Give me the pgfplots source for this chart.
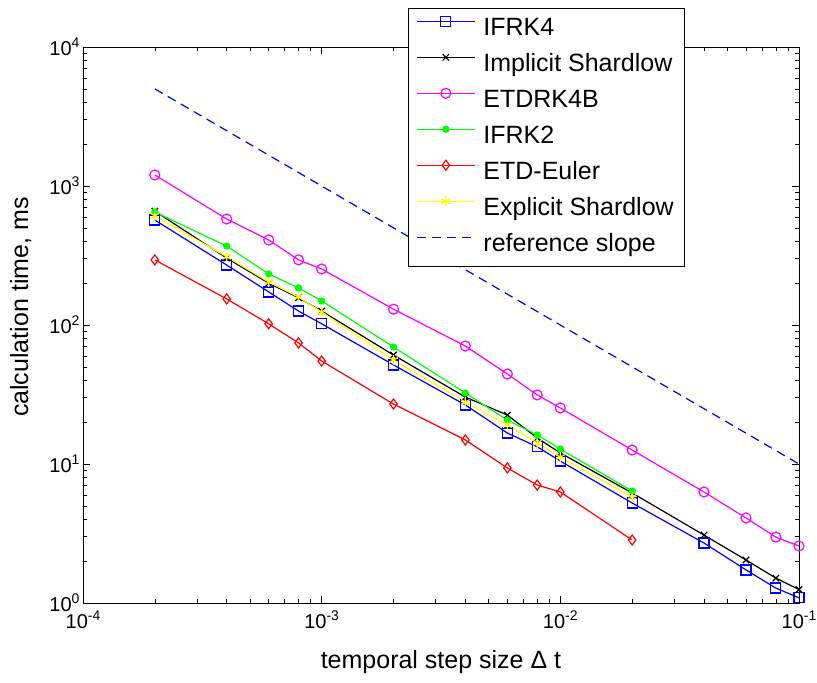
\documentclass[border=0pt]{standalone}
\usepackage{fontspec}
\setmainfont{Liberation Sans}
\usepackage{pgfplots}
\pgfplotsset{compat=1.18}
\definecolor{mblue}{rgb}{0,0,1}
\definecolor{mmag}{rgb}{1,0,1}
\definecolor{mgreen}{rgb}{0,1,0}
\definecolor{mred}{rgb}{1,0,0}
\definecolor{myellow}{rgb}{1,1,0}
\begin{document}
\begin{tikzpicture}
\path[use as bounding box] (-83pt,-80pt) rectangle (734pt,603pt);
\begin{axis}[
  at={(0pt,0pt)}, anchor=south west,
  scale only axis, width=716pt, height=556pt,
  xmode=log, ymode=log,
  xmin=1e-4, xmax=1e-1, ymin=1, ymax=1e4,
  clip=false,
  axis line style={line width=0.8pt},
  major tick length=7pt, minor tick length=4pt,
  every tick/.style={black, line width=0.6pt},
  tick label style={font=\fontsize{20}{24}\selectfont},
  log number format basis/.code 2 args={#1\raisebox{8pt}{\fontsize{14}{14}\selectfont\pgfmathprintnumber[assume math mode=true]{#2}}},
  xticklabel style={yshift=-4pt},
  xlabel={temporal step size Δ t},
  ylabel={calculation time, ms},
  label style={font=\fontsize{25}{30}\selectfont},
  xlabel style={at={(axis description cs:0.5,-0.106)}, anchor=center},
  ylabel style={at={(axis description cs:-0.087,0.532)}, anchor=center},
  legend style={at={(axis description cs:0.454,1.070)}, anchor=north west,
    draw=black, fill=white,
    font=\fontsize{25}{29}\selectfont,
    inner xsep=8pt, inner ysep=3pt, row sep=0pt,
    nodes={inner ysep=6pt, text height=18pt, text depth=6pt},
    /tikz/every odd column/.append style={column sep=6pt},
    /tikz/every even column/.append style={nodes={yshift=-8pt}}},
  legend cell align=left,
  legend image code/.code={%
    \draw[#1, mark=none, draw=., line width=1.2pt] (0pt,0pt) -- (58pt,0pt);
    \draw[#1, draw=.] plot coordinates {(29pt,0pt)};},
]
\addplot[color=mblue, line width=1.2pt, mark=square, mark size=5pt] coordinates {
(2e-4,569) (4e-4,270) (6e-4,173) (8e-4,126) (1e-3,102) (2e-3,51.6) (4e-3,26.6) (6e-3,16.7) (8e-3,13.3) (1e-2,10.5) (2e-2,5.24) (4e-2,2.70) (6e-2,1.73) (8e-2,1.28) (1e-1,1.09)};
\addlegendentry{IFRK4}
\addplot[color=black, line width=1.2pt, mark=x, mark size=4.5pt] coordinates {
(2e-4,660) (4e-4,303) (6e-4,200) (8e-4,157) (1e-3,126) (2e-3,60.8) (4e-3,30.3) (6e-3,22.5) (8e-3,15.4) (1e-2,12.0) (2e-2,6.19) (4e-2,3.08) (6e-2,2.04) (8e-2,1.51) (1e-1,1.25)};
\addlegendentry{Implicit Shardlow}
\addplot[color=mmag, line width=1.2pt, mark=o, mark size=5pt] coordinates {
(2e-4,1200) (4e-4,579) (6e-4,409) (8e-4,294) (1e-3,253) (2e-3,130) (4e-3,70.6) (6e-3,44.4) (8e-3,31.4) (1e-2,25.3) (2e-2,12.6) (4e-2,6.29) (6e-2,4.09) (8e-2,2.98) (1e-1,2.57)};
\addlegendentry{ETDRK4B}
\addplot[color=mgreen, line width=1.2pt, mark=*, mark size=3pt] coordinates {
(2e-4,650) (4e-4,370) (6e-4,233) (8e-4,185) (1e-3,149) (2e-3,69.5) (4e-3,32.4) (6e-3,20.7) (8e-3,16.2) (1e-2,12.8) (2e-2,6.39)};
\addlegendentry{IFRK2}
\addplot[color=mred, line width=1.2pt, mark=diamond, mark size=5pt] coordinates {
(2e-4,294) (4e-4,154) (6e-4,102) (8e-4,74.3) (1e-3,55.1) (2e-3,27.0) (4e-3,14.9) (6e-3,9.36) (8e-3,7.06) (1e-2,6.29) (2e-2,2.84)};
\addlegendentry{ETD-Euler}
\addplot[color=myellow, line width=1.2pt, mark=asterisk, mark size=5pt] coordinates {
(2e-4,610) (4e-4,310) (6e-4,204) (8e-4,159) (1e-3,124) (2e-3,56) (4e-3,27.9) (6e-3,19.1) (8e-3,14.2) (1e-2,11.2) (2e-2,5.79)};
\addlegendentry{Explicit Shardlow}
\addplot[color=mblue, line width=1.2pt, dash pattern=on 9pt off 6pt] coordinates {
(2e-4,5000) (1e-1,10)};
\addlegendentry{reference slope}
\end{axis}
\end{tikzpicture}
\end{document}
